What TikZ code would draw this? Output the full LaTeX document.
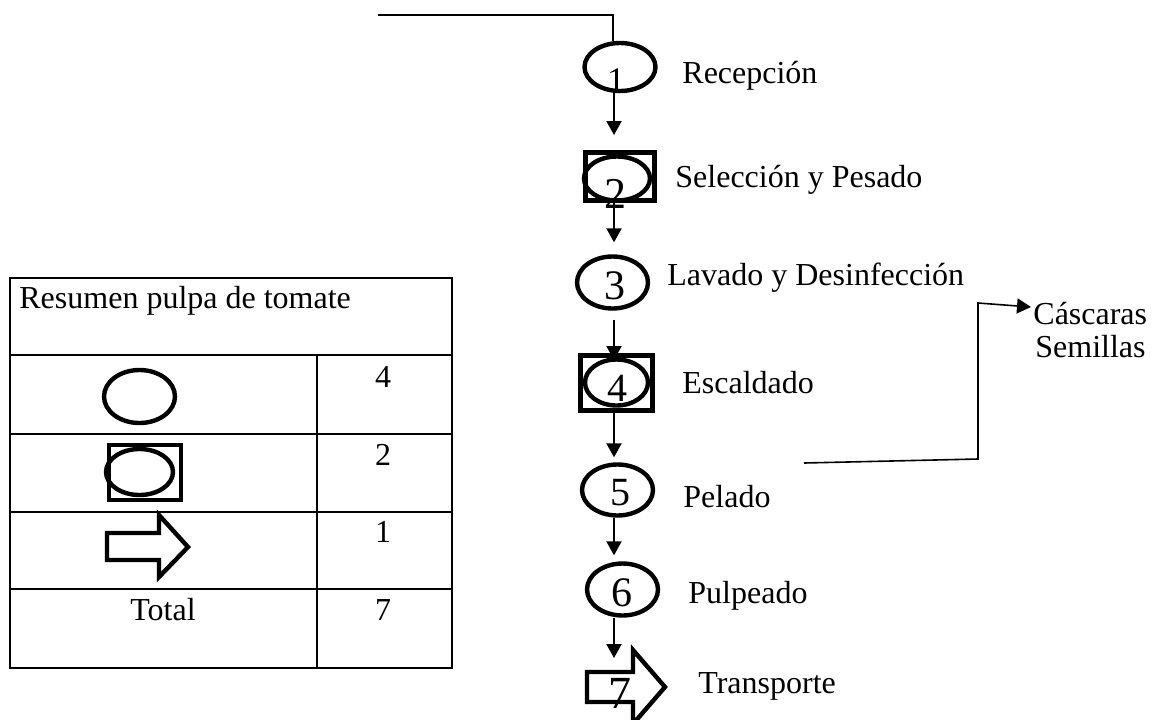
\documentclass[tikz,border=0pt]{standalone}
\usepackage{fontspec}
\setmainfont{Liberation Serif}
\usetikzlibrary{arrows.meta,shapes.geometric,calc}

\tikzset{
  op/.style={draw, ellipse, line width=2.2pt, inner sep=0pt},
  insp/.style={draw, rectangle, line width=2.5pt, inner sep=0pt},
  flow/.style={line width=1pt, -{Triangle[length=7pt,width=7.5pt]}},
  lbl/.style={anchor=base west, inner sep=0pt, font=\fontsize{16}{18}\selectfont},
  num/.style={anchor=base, inner sep=0pt},
}

\begin{document}
\begin{tikzpicture}[x=0.5pt, y=-0.5pt]
\useasboundingbox (0,0) rectangle (1152,719);

\coordinate (spine) at (614,0);

% numbers first, shapes over them
\node[num, font=\fontsize{18}{20}\selectfont] (n1) at (616,92) {1};
\node[num, font=\fontsize{22}{24}\selectfont] (n2) at (615,208) {2};
\node[num, font=\fontsize{21}{23}\selectfont] (n3) at (615,299) {3};
\node[num, font=\fontsize{20}{22}\selectfont] (n4) at (617,401) {4};
\node[num, font=\fontsize{20}{22}\selectfont] (n5) at (620,505) {5};
\node[num, font=\fontsize{21}{23}\selectfont] (n6) at (622,606) {6};
\node[num, font=\fontsize{23}{25}\selectfont] (n7) at (620,708) {7};

% process chart
\node[op, minimum width=35.5pt, minimum height=24pt] (e1) at (620,67) {};
\node[insp, minimum width=34.5pt, minimum height=24pt] (b2) at (620,176.5) {};
\node[op, minimum width=33pt, minimum height=22pt] (b2e) at (617,178.5) {};
\node[op, minimum width=35.5pt, minimum height=26pt] (e3) at (612.5,282.5) {};
\node[insp, minimum width=36pt, minimum height=27.5pt] (b4) at (616.5,383) {};
\node[op, minimum width=31.5pt, minimum height=23pt] (b4e) at (616.5,382.5) {};
\node[op, minimum width=35.5pt, minimum height=25.5pt] (e5) at (617.5,490) {};
\node[op, minimum width=35.5pt, minimum height=26pt] (e6) at (622.5,589.5) {};
\draw[line width=2.2pt] (587,672) -- (633,672) -- (633,650) -- (665,687) -- (633,724)
  -- (633,702) -- (587,702) -- cycle;
\coordinate (t7) at (614,650);

\node[lbl] (l1) at (682,83) {Recepción};
\node[lbl] (l2) at (675,187) {Selección y Pesado};
\node[lbl] (l3) at (667,285) {Lavado y Desinfección};
\node[lbl] (l4) at (682,393) {Escaldado};
\node[lbl] (l5) at (683,507) {Pelado};
\node[lbl] (l6) at (688,603) {Pulpeado};
\node[lbl] (l7) at (698,693) {Transporte};

\foreach \a/\b/\s/\t in {e1/b2/0/7.5, b2/e3/0/6, e3/b4/4.5/-3.5, b4/e5/0/2.5, e5/e6/0/3, e6/t7/0/-4}
  \draw[flow, shorten <=\s pt, shorten >=\t pt] (\a.south -| spine) -- (\b.north -| spine);

% entry line
\coordinate (in) at (378,15);
\draw[line width=1pt] (in) -- (613,15) -- (e1.north -| 613,0);

% waste
\node[lbl] (casc) at (1033,324) {Cáscaras};
\node[lbl] (sem) at (1035,357) {Semillas};
\coordinate (out) at (804,463);
\draw[line width=0.8pt, -{Triangle[length=7pt,width=7.5pt]}] (out) -- (978,459) -- (978,303)
  -- ([xshift=-1pt]casc.base west |- 0,307);

% summary table
\draw[line width=1.3pt] (10,278) rectangle (452,668);
\foreach \y in {355,434,512,589}
  \draw[line width=1.3pt] (10,\y) -- (452,\y);
\draw[line width=1.3pt] (317,355) -- (317,668);
\node[lbl] (tt) at (19,308) {Resumen pulpa de tomate};

\node[op, minimum width=35.5pt, minimum height=26.5pt] (r1) at (139.5,396.5) {};
\node[insp, line width=2.2pt, minimum width=36pt, minimum height=27.5pt] (r2) at (145,472.5) {};
\node[op, minimum width=33.5pt, minimum height=23pt] (r2e) at (139.5,472) {};
\draw[line width=2.2pt] (107,533) -- (159,533) -- (159,515) -- (188,547) -- (159,577)
  -- (159,560) -- (107,560) -- cycle;

\node[num, font=\fontsize{16}{18}\selectfont] (c1) at (383,387) {4};
\node[num, font=\fontsize{16}{18}\selectfont] (c2) at (383,465) {2};
\node[num, font=\fontsize{16}{18}\selectfont] (c3) at (383,542) {1};
\node[num, font=\fontsize{16}{18}\selectfont] (tot) at (163,620) {Total};
\node[num, font=\fontsize{16}{18}\selectfont] (c4) at (383,620) {7};

\end{tikzpicture}
\end{document}
